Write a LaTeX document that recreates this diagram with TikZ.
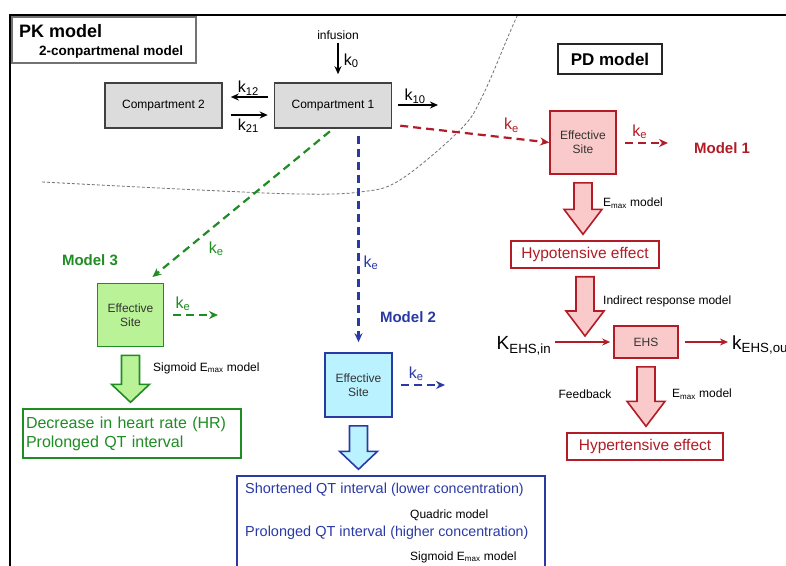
\documentclass[tikz,border=0pt]{standalone}
\usepackage{fontspec}
\setmainfont{Liberation Sans}
\usetikzlibrary{arrows.meta,positioning,calc}
\definecolor{pkred}{RGB}{178,28,38}
\definecolor{pkpink}{RGB}{250,202,202}
\definecolor{pkgreen}{RGB}{32,140,36}
\definecolor{pklime}{RGB}{186,242,152}
\definecolor{pkblue}{RGB}{42,58,165}
\definecolor{pkcyan}{RGB}{186,242,255}
\definecolor{pkgray}{RGB}{220,220,220}

% block arrow from one anchor down to another
\newcommand{\fatarrow}[4]{%
  \draw[#1] ($(#2)+(-9pt,-8pt)$) -- ($(#2 |- #3)+(-9pt,#4pt)$)
    -- ($(#2 |- #3)+(-19pt,#4pt)$) -- ($(#2 |- #3)+(0pt,6pt)$)
    -- ($(#2 |- #3)+(19pt,#4pt)$) -- ($(#2 |- #3)+(9pt,#4pt)$)
    -- ($(#2)+(9pt,-8pt)$) -- cycle;}

\begin{document}
\begin{tikzpicture}[x=1pt, y=-1pt,
  comp/.style={
    draw=black!75,
    line width=1.6pt,
    fill=pkgray,
    minimum width=117pt,
    minimum height=45pt,
    font=\fontsize{12}{14}\selectfont
  },
  site/.style 2 args={
    draw=#1,
    line width=1.6pt,
    fill=#2,
    minimum width=66pt,
    minimum height=63pt,
    align=center,
    text=black!80,
    font=\fontsize{12}{14}\selectfont
  },
  effect/.style={
    draw=#1,
    line width=1.4pt,
    text=#1,
    inner sep=0pt,
    font=\fontsize{15.5}{18}\selectfont
  },
  darrow/.style={#1, line width=2.2pt, dash pattern=on 8pt off 5pt,
    -{Stealth[length=9pt,width=8pt]}},
  karrow/.style={#1, line width=1.6pt, -{Stealth[length=8pt,width=7pt]}},
  fat/.style 2 args={draw=#1, fill=#2, line width=1.6pt},
  klbl/.style={font=\fontsize{16}{18}\selectfont, inner sep=1pt},
  lbl/.style={font=\fontsize{12}{14}\selectfont, inner sep=0pt},
  model/.style={font=\fontsize{15}{18}\selectfont\bfseries, text=#1}
]
\useasboundingbox (0,0) rectangle (786,565);
\fill[white] (0,0) rectangle (786,565);
\clip (0,0) rectangle (786,565);

% -------- Frame and border curve --------
\draw[black!55, line width=0.8pt, dash pattern=on 3pt off 2pt]
  plot[smooth, tension=0.6] coordinates {(42,182) (200,190) (300,194) (360,192)
  (400,180) (460,130) (482,97) (510,32) (518,14)};
\draw[line width=2pt] (10,575) -- (10,15) -- (795,15);

% -------- PK model --------
\node[draw=black!55, line width=1.2pt, minimum width=184pt, minimum height=46pt]
  (pkbox) at (104,40) {};
\node[anchor=west, font=\fontsize{18}{20}\selectfont\bfseries, inner sep=0pt]
  (pktitle) at (19,31) {PK model};
\node[anchor=west, font=\fontsize{13.5}{15}\selectfont\bfseries, inner sep=0pt]
  (pksub) at (39,52) {2-conpartmenal model};

\node[lbl] (inf) at (338,35) {infusion};
\node[comp] (c1) at (333,105.5) {Compartment 1};
\node[comp] (c2) at (163.5,105.5) {Compartment 2};
\coordinate (k10end) at (438,105);

\draw[karrow=black, shorten <=3pt, shorten >=8pt] (inf) -- (inf |- c1.north)
  node[midway, right=4pt, klbl] {k\textsubscript{0}};
\draw[karrow=black, shorten <=6pt, shorten >=8pt] ([yshift=8.5pt]c1.west) -- ([yshift=8.5pt]c2.east)
  node[midway, above, klbl] {k\textsubscript{12}};
\draw[karrow=black, shorten <=8pt, shorten >=6pt] ([yshift=-9.5pt]c2.east) -- ([yshift=-9.5pt]c1.west)
  node[midway, below=2pt, klbl] {k\textsubscript{21}};
\draw[karrow=black, shorten <=6pt] (c1.east |- k10end) -- (k10end)
  node[midway, above, klbl] {k\textsubscript{10}};

% -------- PD model --------
\node[draw=black!85, line width=1.4pt, minimum width=104pt, minimum height=30pt,
  inner sep=0pt, font=\fontsize{17}{19}\selectfont\bfseries] (pdbox) at (610,59) {PD model};

% -------- Model 1 --------
\node[site={pkred}{pkpink}] (es1) at (583,142.5) {Effective\\Site};
\coordinate (ke1end) at (668,143);
\node[model=pkred] (m1) at (722,148) {Model 1};
\draw[darrow=pkred, shorten <=8pt] ([yshift=4pt]c1.south east) -- (es1.west)
  node[pos=0.76, above=4pt, klbl] {k\textsubscript{e}};
\draw[darrow=pkred, shorten <=8pt] (es1.east |- ke1end) -- (ke1end)
  node[pos=0.45, above=2pt, klbl] {k\textsubscript{e}};

\node[effect=pkred, minimum width=148pt, minimum height=27pt] (hypo) at (585,254.5)
  {Hypotensive effect};
\node[site={pkred}{pkpink}, minimum width=64pt, minimum height=32pt] (ehs) at (646,342) {EHS};
\node[effect=pkred, minimum width=156pt, minimum height=27pt] (hyper) at (645,446.5)
  {Hypertensive effect};
\coordinate (ind) at (585,342);

\node[font=\fontsize{19}{21}\selectfont, inner sep=1pt] (kin) at (524,346) {K\textsubscript{EHS,in}};
\node[anchor=west, font=\fontsize{19}{21}\selectfont, inner sep=1pt] (kout) at (731,345)
  {k\textsubscript{EHS,out}};
\draw[karrow=pkred, shorten <=3pt, shorten >=3pt] (kin.east |- ehs.west) -- (ehs.west);
\draw[karrow=pkred, shorten <=6pt, shorten >=3pt] (ehs.east) -- (kout.west |- ehs.east);

\fatarrow{fat={pkred}{pkpink}}{es1.south}{hypo.north}{31}
\fatarrow{fat={pkred}{pkpink}}{hypo.south}{ind}{31}
\fatarrow{fat={pkred}{pkpink}}{ehs.south}{hyper.north}{31}

\node[lbl, anchor=west] (emax1) at (603,203) {E\textsubscript{max} model};
\node[lbl, anchor=west] (irm) at (603,301) {Indirect response model};
\node[lbl] (fb) at (585,394) {Feedback};
\node[lbl, anchor=west] (emax2) at (672,394) {E\textsubscript{max} model};

% -------- Model 3 --------
\node[model=pkgreen] (m3) at (90,260) {Model 3};
\node[site={pkgreen}{pklime}] (es3) at (130.5,315) {Effective\\Site};
\coordinate (ke3end) at (218,315);
\node[draw=pkgreen, line width=1.4pt, text=pkgreen, minimum width=218pt, minimum height=49pt,
  text width=212pt, inner xsep=3pt, align=left, font=\fontsize{16}{19}\selectfont]
  (res3) at (132,433.5) {Decrease in heart rate (HR)\\Prolonged QT interval};
\draw[darrow=pkgreen, shorten <=4pt, shorten >=9pt] (c1.south) -- ([xshift=15pt]es3.north)
  node[pos=0.78, right=20pt, klbl] {k\textsubscript{e}};
\draw[darrow=pkgreen, shorten <=9pt] (es3.east |- ke3end) -- (ke3end)
  node[pos=0.35, above=2pt, klbl] {k\textsubscript{e}};
\fatarrow{fat={pkgreen}{pklime}}{es3.south}{res3.north}{24}
\node[lbl, anchor=west] (sig3) at (153,368) {Sigmoid E\textsubscript{max} model};

% -------- Model 2 --------
\node[model=pkblue] (m2) at (408,317) {Model 2};
\node[site={pkblue}{pkcyan}, minimum width=67pt, minimum height=64pt] (es2) at (358.5,385)
  {Effective\\Site};
\coordinate (ke2end) at (445,385);
\node[draw=pkblue, line width=1.4pt, minimum width=308pt, minimum height=130pt]
  (res2) at (391,541) {};
\draw[darrow=pkblue, shorten <=7pt, shorten >=10pt] (es2.north |- c1.south) -- (es2.north)
  node[pos=0.6, right=3pt, klbl] {k\textsubscript{e}};
\draw[darrow=pkblue, shorten <=8pt] (es2.east |- ke2end) -- (ke2end)
  node[pos=0.45, above=2pt, klbl] {k\textsubscript{e}};
\fatarrow{fat={pkblue}{pkcyan}}{es2.south}{res2.north}{24}

\node[anchor=west, text=pkblue, inner sep=0pt, font=\fontsize{14.5}{17}\selectfont] (short) at (245,490)
  {Shortened QT interval {\fontsize{14.2}{16}\selectfont(lower concentration)}};
\node[lbl, anchor=west] (quad) at (410,515) {Quadric model};
\node[anchor=west, text=pkblue, inner sep=0pt, font=\fontsize{14.5}{17}\selectfont] (prol) at (245,533)
  {Prolonged QT interval {\fontsize{14.2}{16}\selectfont(higher concentration)}};
\node[lbl, anchor=west] (sig2) at (410,557) {Sigmoid E\textsubscript{max} model};

\end{tikzpicture}
\end{document}
